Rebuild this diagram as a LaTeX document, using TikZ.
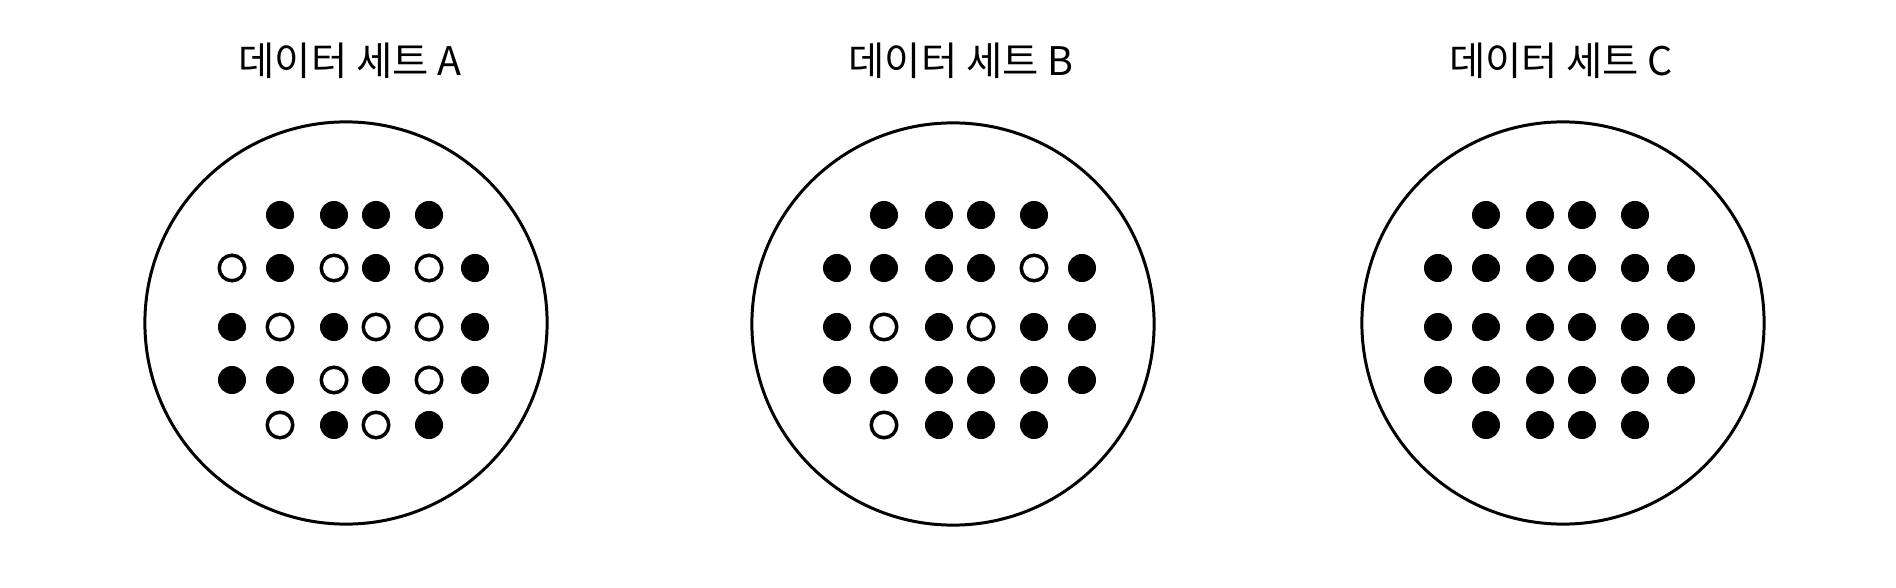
\documentclass[tikz,border=0pt]{standalone}
\usepackage{fontspec}
\setmainfont{Noto Sans CJK KR}
\usepackage{tikz}
\usetikzlibrary{positioning}

\tikzset{
	dish/.style={circle, draw, line width=0.85pt, minimum size=4.02cm, inner sep=0pt},
	dotfull/.style={circle, fill=black, minimum size=0.28cm, inner sep=0pt},
	dotopen/.style={circle, draw, line width=1pt, minimum size=0.255cm, inner sep=0pt},
	settitle/.style={font=\fontsize{11.2pt}{13pt}\selectfont, inner sep=0pt}
}

\begin{document}
\begin{tikzpicture}[x=0.01cm,y=-0.01cm]
	\useasboundingbox (0,0) rectangle (1896,588);

	% data set A
	\node (dishA) at (346,323) [dish] {};
	\node (titleA) at (350,61) [settitle] {데이터 세트 A};
	\foreach \x/\s [count=\i] in {280/dotfull,334/dotfull,376/dotfull,429/dotfull}
		\node (a1\i) at (\x,215) [\s] {};
	\foreach \x/\s [count=\i] in {232/dotopen,280/dotfull,334/dotopen,376/dotfull,429/dotopen,475/dotfull}
		\node (a2\i) at (\x,268) [\s] {};
	\foreach \x/\s [count=\i] in {232/dotfull,280/dotopen,334/dotfull,376/dotopen,429/dotopen,475/dotfull}
		\node (a3\i) at (\x,327) [\s] {};
	\foreach \x/\s [count=\i] in {232/dotfull,280/dotfull,334/dotopen,376/dotfull,429/dotopen,475/dotfull}
		\node (a4\i) at (\x,380) [\s] {};
	\foreach \x/\s [count=\i] in {280/dotopen,334/dotfull,376/dotopen,429/dotfull}
		\node (a5\i) at (\x,425) [\s] {};

	% data set B
	\node (dishB) at (953,324) [dish] {};
	\node (titleB) at (961,61) [settitle] {데이터 세트 B};
	\foreach \x/\s [count=\i] in {884/dotfull,939/dotfull,981/dotfull,1034/dotfull}
		\node (b1\i) at (\x,215) [\s] {};
	\foreach \x/\s [count=\i] in {837/dotfull,884/dotfull,939/dotfull,981/dotfull,1034/dotopen,1082/dotfull}
		\node (b2\i) at (\x,268) [\s] {};
	\foreach \x/\s [count=\i] in {837/dotfull,884/dotopen,939/dotfull,981/dotopen,1034/dotfull,1082/dotfull}
		\node (b3\i) at (\x,327) [\s] {};
	\foreach \x/\s [count=\i] in {837/dotfull,884/dotfull,939/dotfull,981/dotfull,1034/dotfull,1082/dotfull}
		\node (b4\i) at (\x,380) [\s] {};
	\foreach \x/\s [count=\i] in {884/dotopen,939/dotfull,981/dotfull,1034/dotfull}
		\node (b5\i) at (\x,425) [\s] {};

	% data set C
	\node (dishC) at (1563,323) [dish] {};
	\node (titleC) at (1561,61) [settitle] {데이터 세트 C};
	\foreach \x [count=\i] in {1486,1540,1582,1635}
		\node (c1\i) at (\x,215) [dotfull] {};
	\foreach \y [count=\j from 2] in {268,327,380}
		\foreach \x [count=\i] in {1438,1486,1540,1582,1635,1681}
			\node (c\j\i) at (\x,\y) [dotfull] {};
	\foreach \x [count=\i] in {1486,1540,1582,1635}
		\node (c5\i) at (\x,425) [dotfull] {};

\end{tikzpicture}
\end{document}
